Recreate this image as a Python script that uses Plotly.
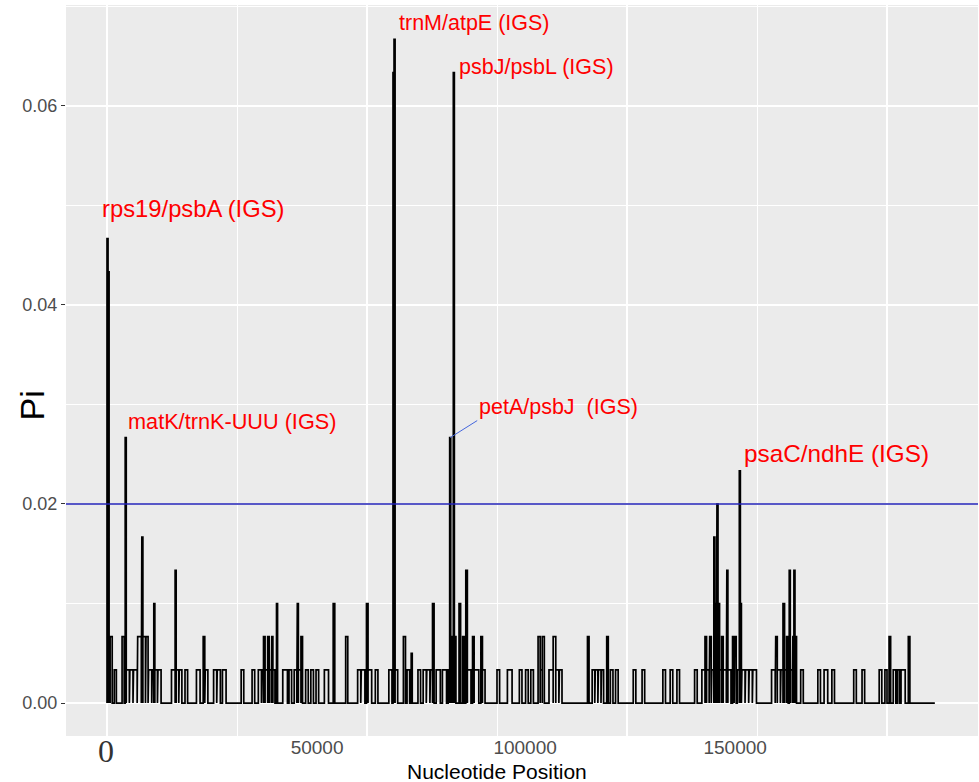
import plotly.graph_objects as go

# ---------------- data (sliding-window nucleotide diversity) ----------------
# windows with non-zero Pi, as runs: start / end position (bp) and Pi value
pulse_start = [
    0, 200, 400, 600, 1400, 2900, 3500, 3700, 4400, 5100, 5900, 6700, 6900, 7500, 8000, 8700, 9000, 9200, 9800,
    12400, 13100, 13300, 13900, 15000, 17200, 18500, 18900, 20500, 21200, 22200, 25800, 27900, 29100, 29800, 30100, 30400, 30900, 31200, 31700, 31900,
    32600, 33800, 35000, 36000, 36600, 36800, 37300, 38200, 39200, 40200, 41800, 43500, 45900, 48200, 48900, 49900, 50200, 51600,
    54200, 55000, 55200, 55400, 57000, 57700, 58500, 59800, 60800, 61500, 62200, 62600, 63300, 64500, 65600, 65900, 66100, 66400, 66600, 66800,
    67700, 68400, 69000, 69300, 70300, 70600, 71900, 72200, 75000, 77000, 79300, 80500, 81500, 82900, 83300, 83700, 85000, 85800, 86300, 87000,
    92400, 93300, 93900, 94500, 95100, 96100, 96800, 97800, 101200, 102900, 106900, 108300, 109600, 113000,
    114400, 115000, 115300, 115900, 116300, 116700, 116900, 117300, 117500, 117800, 118200, 118500, 119200, 119400, 120300, 120700, 121200, 121600, 121800, 122100, 122800, 123500, 124200,
    127800, 128600, 128900, 129600, 130000, 130300, 130700, 131200, 131400, 131900, 132100, 132300, 133400, 136700, 137900, 139400, 143600, 145200, 148500, 149600, 150400, 151200, 152000, 152700, 154100,
]
pulse_end = [
    200, 400, 600, 1000, 1800, 3300, 3700, 4300, 5000, 5800, 6600, 6900, 7400, 7900, 8600, 9000, 9200, 9700, 10400,
    13100, 13300, 13800, 14400, 15500, 17900, 18800, 19400, 21100, 21800, 22900, 26300, 28400, 29700, 30100, 30400, 30900, 31200, 31600, 31900, 32300,
    32800, 34700, 35500, 36500, 36800, 37300, 37600, 38700, 39700, 40700, 42600, 43800, 46300, 48800, 49600, 50200, 50900, 52100,
    54800, 55200, 55400, 55900, 57400, 58200, 58700, 60300, 61400, 62100, 62600, 62900, 64100, 65300, 65900, 66100, 66400, 66600, 66800, 67100,
    68000, 68700, 69300, 70000, 70600, 71500, 72200, 72700, 75500, 77900, 79800, 81000, 82000, 83300, 83700, 84100, 85800, 86300, 86900, 87500,
    92700, 93800, 94400, 95000, 95500, 96400, 97300, 98300, 101700, 103400, 107400, 108800, 110100, 113500,
    115000, 115300, 115800, 116200, 116700, 116900, 117200, 117500, 117800, 118200, 118500, 119100, 119400, 120000, 120600, 121000, 121600, 121800, 122000, 122700, 123400, 124100, 124900,
    128500, 128900, 129500, 130000, 130300, 130700, 131000, 131400, 131800, 132100, 132300, 132600, 133900, 137200, 138600, 139900, 144100, 145700, 149000, 150000, 150700, 151700, 152400, 153500, 154400,
]
pulse_pi = [
    0.04667, 0.04333, 0.00333, 0.00667, 0.00333, 0.00667, 0.02667, 0.00333, 0.00333, 0.00333, 0.00667, 0.01667, 0.00667, 0.00667, 0.00333, 0.00333, 0.01, 0.00333, 0.00333,
    0.00333, 0.01333, 0.00333, 0.00333, 0.00333, 0.00333, 0.00667, 0.00333, 0.00333, 0.00333, 0.00333, 0.00333, 0.00333, 0.00333, 0.00333, 0.00667, 0.00333, 0.00667, 0.00333, 0.00667, 0.00333,
    0.01, 0.00333, 0.00333, 0.00333, 0.01, 0.00333, 0.00667, 0.00333, 0.00333, 0.00333, 0.00333, 0.01, 0.00667, 0.00333, 0.00333, 0.01, 0.00333, 0.00333,
    0.00333, 0.06333, 0.06667, 0.00333, 0.00667, 0.00333, 0.005, 0.00333, 0.00333, 0.00333, 0.00333, 0.01, 0.00333, 0.00333, 0.00333, 0.02667, 0.00667, 0.00333, 0.06333, 0.00667,
    0.01, 0.00667, 0.01333, 0.00333, 0.00667, 0.00333, 0.00667, 0.00333, 0.00333, 0.00333, 0.00333, 0.00333, 0.00333, 0.00667, 0.00333, 0.00667, 0.00333, 0.00667, 0.00333, 0.00333,
    0.00667, 0.00333, 0.00333, 0.00333, 0.00333, 0.00667, 0.00333, 0.00333, 0.00333, 0.00333, 0.00333, 0.00333, 0.00333, 0.00333,
    0.00333, 0.00667, 0.00333, 0.00667, 0.00333, 0.01667, 0.01, 0.02, 0.01, 0.00333, 0.00667, 0.00333, 0.01333, 0.00333, 0.00667, 0.00667, 0.00333, 0.02333, 0.01, 0.00333, 0.00333, 0.00333, 0.00333,
    0.00333, 0.00667, 0.00333, 0.00333, 0.01, 0.00333, 0.00667, 0.01333, 0.00333, 0.00667, 0.01333, 0.00667, 0.00333, 0.00333, 0.00333, 0.00333, 0.00333, 0.00333, 0.00333, 0.00333, 0.00667, 0.00333, 0.00333, 0.00333, 0.00667,
]
assert len(pulse_start) == len(pulse_end) == len(pulse_pi)
seq_length = 159200
pi_threshold = 0.02

# hotspot labels
label_text = ["rps19/psbA (IGS)", "matK/trnK-UUU (IGS)", "trnM/atpE (IGS)",
              "psbJ/psbL (IGS)", "petA/psbJ\u00a0 (IGS)", "psaC/ndhE (IGS)"]
label_pos = [100, 3600, 55300, 66700, 66000, 121700]
label_pi = [0.04667, 0.02667, 0.06667, 0.06333, 0.02667, 0.02333]

# axis tick labels (as drawn in the figure)
y_ticks = [0.0, 0.02, 0.04, 0.06]
x_grid_major = [0, 50000, 100000, 150000]
x_grid_minor = [25000, 75000, 125000]
x_tick_text = ["50000", "100000", "150000"]
x_tick_drawn_at = [40400, 80400, 120800]

# ---------------- build trace ----------------
xs, ys = [0], [0]
for s, e, v in zip(pulse_start, pulse_end, pulse_pi):
    xs += [s, s, e, e]
    ys += [0, v, v, 0]
xs.append(seq_length)
ys.append(0)

FONT = "Liberation Sans, Arial, sans-serif"
XR = [-7885, 167500]
YR = [-0.00331, 0.07013]

fig = go.Figure()
fig.add_trace(go.Scatter(x=xs, y=ys, mode="lines",
                         line=dict(color="black", width=1.7),
                         hoverinfo="skip", showlegend=False))
fig.add_trace(go.Scatter(x=[None], y=[None], xaxis="x2", yaxis="y",
                         mode="markers", showlegend=False, hoverinfo="skip"))

fig.add_hline(y=pi_threshold, line=dict(color="#1F1FB4", width=1.3))

# label styles: (xshift, yshift, font size)
label_style = [(-8, 30, 23.8), (0, 16, 21.7), (2, 16, 21.5), (3, 6, 21.5), None, (2, 17, 24.3)]
for txt, xp, yp, st in zip(label_text, label_pos, label_pi, label_style):
    if st is None:
        fig.add_annotation(x=xp, y=yp, text=txt, showarrow=True, arrowhead=0,
                           arrowcolor="#4466DD", arrowwidth=1, ax=27, ay=-17,
                           xanchor="left", yanchor="bottom",
                           font=dict(family=FONT, size=21.5, color="#FF0000"))
    else:
        fig.add_annotation(x=xp, y=yp, text=txt, showarrow=False,
                           xanchor="left", yanchor="middle",
                           xshift=st[0], yshift=st[1],
                           font=dict(family=FONT, size=st[2], color="#FF0000"))

# axis titles and the hand-drawn "0"
fig.add_annotation(x=0, y=0, xref="x", yref="paper", text="0", showarrow=False,
                   xanchor="center", yanchor="middle", yshift=-15, xshift=-1,
                   font=dict(family="Liberation Serif, Times New Roman, serif", size=32, color="#333333"))
fig.add_annotation(x=0.4731, y=0, xref="paper", yref="paper", text="Nucleotide Position",
                   showarrow=False, xanchor="center", yanchor="middle", yshift=-35,
                   borderpad=0,
                   font=dict(family=FONT, size=21, color="black"))
fig.add_annotation(x=0, y=0.4522, xref="paper", yref="paper", text="Pi", textangle=-90,
                   showarrow=False, xanchor="center", yanchor="middle", xshift=-34,
                   font=dict(family=FONT, size=34, color="black"))

fig.update_layout(
    width=979, height=782,
    margin=dict(l=66, r=1, t=5, b=46),
    paper_bgcolor="white", plot_bgcolor="#EBEBEB",
    showlegend=False,
    font=dict(family=FONT),
    xaxis=dict(range=XR, tickvals=x_grid_major, showticklabels=False, ticks="",
               showgrid=True, gridcolor="white", gridwidth=1.6, zeroline=False,
               showline=False,
               minor=dict(tickvals=x_grid_minor, showgrid=True, gridcolor="white",
                          gridwidth=0.8, ticks="")),
    xaxis2=dict(range=XR, overlaying="x", anchor="y", side="bottom",
                tickvals=x_tick_drawn_at, ticktext=x_tick_text, ticks="",
                ticklabelstandoff=-2,
                showgrid=False, zeroline=False, showline=False,
                tickfont=dict(family=FONT, size=19, color="#4D4D4D")),
    yaxis=dict(range=YR, tickvals=y_ticks, tickformat=".2f",
               ticks="outside", ticklen=4, tickwidth=1, tickcolor="#333333",
               tickfont=dict(family=FONT, size=18, color="#4D4D4D"),
               showgrid=True, gridcolor="white", gridwidth=1.6, zeroline=False,
               minor=dict(tickvals=[0.01, 0.03, 0.05, 0.07], showgrid=True,
                          gridcolor="white", gridwidth=0.8, ticks="")),
)

fig.write_html("out.html", config={"displayModeBar": False},
               post_script="document.body.style.margin='0';document.body.style.overflow='hidden';")
